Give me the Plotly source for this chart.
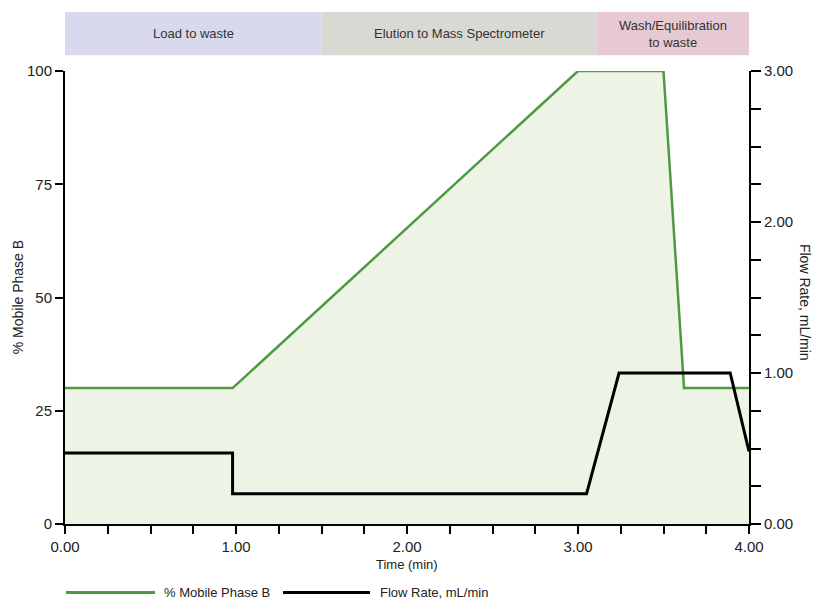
import plotly.graph_objects as go

# Data
time_b = [0.0, 0.98, 3.0, 3.5, 3.62, 4.0]
pct_b = [30, 30, 100, 100, 30, 30]

time_flow = [0.0, 0.98, 0.98, 3.05, 3.24, 3.89, 4.0]
flow = [0.47, 0.47, 0.2, 0.2, 1.0, 1.0, 0.48]

band_labels = ["Load to waste", "Elution to Mass Spectrometer", "Wash/Equilibration<br>to waste"]
band_edges = [0.0, 1.5, 3.11, 4.0]
band_colors = ["#d9d9ee", "#d8d9d3", "#e7c9d3"]

legend_names = ["% Mobile Phase B", "Flow Rate, mL/min"]
GREEN = "#4d9a42"
FILL = "#eef4e5"
BLACK = "#000000"
FONT = "Liberation Sans Narrow, Liberation Sans, Arial Narrow, sans-serif"
TXT = "#222222"

fig = go.Figure()
fig.add_trace(go.Scatter(x=time_b, y=pct_b, mode="lines", line=dict(color=GREEN, width=2.5),
                         fill="tozeroy", fillcolor=FILL, name=legend_names[0], showlegend=False))
fig.add_trace(go.Scatter(x=time_flow, y=flow, mode="lines", line=dict(color=BLACK, width=3),
                         yaxis="y2", name=legend_names[1], showlegend=False))

shapes = []
annotations = []
for i, lab in enumerate(band_labels):
    shapes.append(dict(type="rect", xref="x", yref="paper", x0=band_edges[i], x1=band_edges[i + 1],
                       y0=1.035, y1=1.13, fillcolor=band_colors[i], line=dict(width=0), layer="below"))
    annotations.append(dict(x=(band_edges[i] + band_edges[i + 1]) / 2, y=1.0825, xref="x", yref="paper",
                            xanchor="center", yanchor="middle", text=lab, showarrow=False,
                            font=dict(size=13, color="#333333", family=FONT)))

# Legend (custom)
LEG_Y = -0.151
shapes.append(dict(type="line", xref="paper", yref="paper", x0=0.0015, x1=0.1316, y0=LEG_Y, y1=LEG_Y,
                   line=dict(color=GREEN, width=3)))
shapes.append(dict(type="line", xref="paper", yref="paper", x0=0.3187, x1=0.4459, y0=LEG_Y, y1=LEG_Y,
                   line=dict(color=BLACK, width=3)))
annotations.append(dict(x=0.1418, y=LEG_Y, xref="paper", yref="paper", text=legend_names[0], xanchor="left",
                        yanchor="middle", showarrow=False, font=dict(size=13, color=TXT, family=FONT)))
annotations.append(dict(x=0.4576, y=LEG_Y, xref="paper", yref="paper", text=legend_names[1], xanchor="left",
                        yanchor="middle", showarrow=False, font=dict(size=13, color=TXT, family=FONT)))

# Axis titles
annotations.append(dict(x=2.0, y=-0.09, xref="x", yref="paper", text="Time (min)", showarrow=False,
                        xanchor="center", yanchor="middle", font=dict(size=13, color=TXT, family=FONT)))
annotations.append(dict(x=-0.069, y=0.5, xref="paper", yref="paper", text="% Mobile Phase B", textangle=-90,
                        xanchor="center", yanchor="middle", showarrow=False,
                        font=dict(size=14, color=TXT, family=FONT)))
annotations.append(dict(x=1.082, y=0.49, xref="paper", yref="paper", text="Flow Rate, mL/min", textangle=90,
                        xanchor="center", yanchor="middle", showarrow=False,
                        font=dict(size=14, color=TXT, family=FONT)))

# The page body has an 8px margin, so the figure is drawn 8px in from the window corner.
fig.update_layout(
    width=812, height=594,
    margin=dict(l=57, r=71, t=63, b=78),
    plot_bgcolor="white", paper_bgcolor="white",
    font=dict(family=FONT, size=15, color=TXT),
    shapes=shapes, annotations=annotations,
    xaxis=dict(range=[0, 4], dtick=1, tickformat=".2f", showgrid=False, zeroline=False,
               showline=True, linecolor="black", linewidth=2, ticks="outside", ticklen=8, tickwidth=2,
               tickcolor="black", minor=dict(dtick=0.25, ticks="outside", ticklen=8, tickwidth=2, tickcolor="black")),
    yaxis=dict(range=[0, 100], dtick=25, showgrid=False, zeroline=False, showline=True, linecolor="black",
               linewidth=2, ticks="outside", ticklen=8, tickwidth=2, tickcolor="black"),
    yaxis2=dict(range=[0, 3], dtick=1, tickformat=".2f", overlaying="y", side="right", showgrid=False,
                zeroline=False, showline=True, linecolor="black", linewidth=2, ticks="outside", ticklen=10,
                tickwidth=2, tickcolor="black",
                minor=dict(dtick=0.25, ticks="outside", ticklen=10, tickwidth=2, tickcolor="black")),
)

fig.write_html("out.html")
